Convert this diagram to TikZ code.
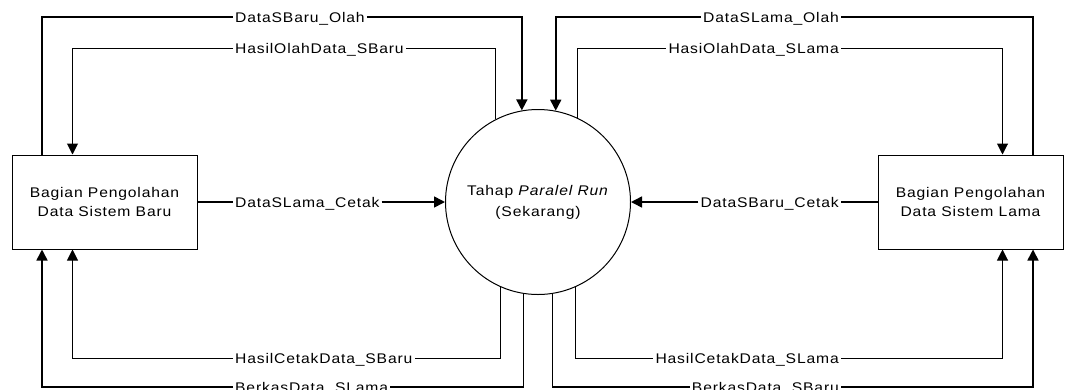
\documentclass[tikz,border=0pt]{standalone}
\usepackage{fontspec}
\setmainfont{Liberation Sans}[FakeStretch=1.12, LetterSpace=6]
\usetikzlibrary{arrows.meta}
\begin{document}
\begin{tikzpicture}[x=1pt, y=-1pt,
  font=\fontsize{14}{19.5}\selectfont,
  proc/.style={draw, line width=1pt, minimum width=185pt, minimum height=94pt, align=center, inner sep=0pt},
  circ/.style={draw, circle, line width=1pt, minimum size=185pt, align=center, inner sep=0pt, font=\fontsize{14}{21}\selectfont},
  lbl/.style={inner sep=2pt, text height=10pt, text depth=0pt},
  outer/.style={line width=1.6pt},
  inner/.style={line width=1pt},
  tip/.style={-{Triangle[length=11pt, width=11pt]}}
]
\clip (0,0) rectangle (1068,389);

% external entities and the process
\node[proc] (lb) at (104.5,202) {Bagian Pengolahan\\Data Sistem Baru};
\node[proc] (rb) at (970.5,202) {Bagian Pengolahan\\Data Sistem Lama};
\node[circ] (c) at (538,202) {Tahap \textit{Paralel Run}\\(Sekarang)};

% flow labels, left side
\node[lbl, anchor=west] (l1) at (233,17)  {DataSBaru\_Olah};
\node[lbl, anchor=west] (l2) at (233,48)  {HasilOlahData\_SBaru};
\node[lbl, anchor=west] (l3) at (233,202) {DataSLama\_Cetak};
\node[lbl, anchor=west] (l4) at (233,358) {HasilCetakData\_SBaru};
\node[lbl, anchor=west] (l5) at (233,387) {BerkasData\_SLama};

% flow labels, right side
\node[lbl, anchor=east] (r1) at (841,17)  {DataSLama\_Olah};
\node[lbl, anchor=east] (r2) at (841,48)  {HasiOlahData\_SLama};
\node[lbl, anchor=east] (r3) at (841,202) {DataSBaru\_Cetak};
\node[lbl, anchor=east] (r4) at (841,358) {HasilCetakData\_SLama};
\node[lbl, anchor=east] (r5) at (841,387) {BerkasData\_SBaru};

% left flows
\draw[outer] ([xshift=30.5pt]lb.north west) |- (l1.west);
\draw[outer, tip] (l1.east) -| (c.100);
\draw[inner] (c.117) |- (l2.east);
\draw[inner, tip] (l2.west) -| ([xshift=61pt]lb.north west);
\draw[outer] (lb.east) -- (l3.west);
\draw[outer, tip] (l3.east) -- (c.west);
\draw[inner] (c.-114) |- (l4.east);
\draw[inner, tip] (l4.west) -| ([xshift=61pt]lb.south west);
\draw[outer] (c.-99) |- (l5.east);
\draw[outer, tip] (l5.west) -| ([xshift=30.5pt]lb.south west);

% right flows
\draw[outer] ([xshift=-30.5pt]rb.north east) |- (r1.east);
\draw[outer, tip] (r1.west) -| (c.79);
\draw[inner] (c.65) |- (r2.west);
\draw[inner, tip] (r2.east) -| ([xshift=-61pt]rb.north east);
\draw[outer] (rb.west) -- (r3.east);
\draw[outer, tip] (r3.west) -- (c.east);
\draw[inner] (c.-66) |- (r4.west);
\draw[inner, tip] (r4.east) -| ([xshift=-61pt]rb.south east);
\draw[outer] (c.-81) |- (r5.west);
\draw[outer, tip] (r5.east) -| ([xshift=-30.5pt]rb.south east);
\end{tikzpicture}
\end{document}
